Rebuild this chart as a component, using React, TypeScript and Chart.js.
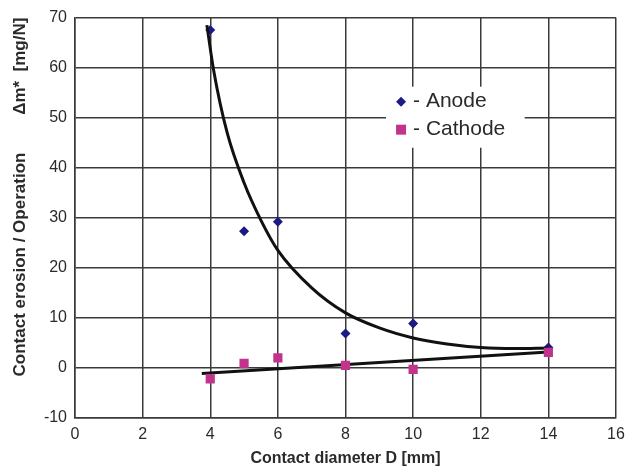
import React, { useEffect, useRef } from "react";
import { Chart, registerables } from "chart.js";

Chart.register(...registerables);

const xTickValues = [0, 2, 4, 6, 8, 10, 12, 14, 16];
const yTickValues = [-10, 0, 10, 20, 30, 40, 50, 60, 70];

const anodeX = [4, 5, 6, 8, 10, 14];
const anodeY = [67.5, 27.3, 29.2, 6.9, 8.9, 4.1];

const cathodeX = [4, 5, 6, 8, 10, 14];
const cathodeY = [-2.2, 0.9, 2.0, 0.5, -0.3, 3.1];

const anodeTrendX = [3.9, 4.1, 4.5, 5, 5.5, 6, 7, 8, 9, 10, 11, 12, 13, 14];
const anodeTrendY = [68.5, 59.5, 47, 37, 29.5, 23.5, 16, 11, 8, 6, 4.8, 4.1, 3.9, 4.0];

const cathodeTrendX = [3.75, 14];
const cathodeTrendY = [-1.1, 3.2];

const legendLabels = ["- Anode", "- Cathode"];
const xTitle = "Contact diameter D [mm]";
const yTitle = "Contact erosion / Operation        \u0394m*  [mg/N]";

const ANODE_COLOR = "#1c1a84";
const CATHODE_COLOR = "#c2338e";
const GRID_COLOR = "#3a3a3a";
const TEXT_COLOR = "#2a2a2a";

const zip = (xs: number[], ys: number[]) => xs.map((x, i) => ({ x, y: ys[i] }));

const legendPlugin = {
  id: "innerLegend",
  beforeDatasetsDraw(chart: any) {
    const ctx = chart.ctx;
    const xs = chart.scales.x;
    const ys = chart.scales.y;
    const left = xs.getPixelForValue(9.2);
    const right = xs.getPixelForValue(13.3);
    const top = ys.getPixelForValue(56.2);
    const bottom = ys.getPixelForValue(44);
    ctx.save();
    ctx.fillStyle = "#ffffff";
    ctx.fillRect(left, top, right - left, bottom - top);
    const mx = left + 15;
    const row1 = top + 15;
    const row2 = top + 43;
    ctx.fillStyle = ANODE_COLOR;
    ctx.beginPath();
    ctx.moveTo(mx - 5, row1);
    ctx.lineTo(mx, row1 - 5);
    ctx.lineTo(mx + 5, row1);
    ctx.lineTo(mx, row1 + 5);
    ctx.closePath();
    ctx.fill();
    ctx.fillStyle = CATHODE_COLOR;
    ctx.fillRect(mx - 5, row2 - 5, 10, 10);
    ctx.fillStyle = TEXT_COLOR;
    ctx.font = "21px 'Liberation Sans', Arial, sans-serif";
    ctx.textBaseline = "middle";
    ctx.textAlign = "left";
    ctx.fillText(legendLabels[0], mx + 12, row1);
    ctx.fillText(legendLabels[1], mx + 12, row2);
    ctx.restore();
  },
};

export default function App() {
  const ref = useRef<HTMLCanvasElement | null>(null);

  useEffect(() => {
    if (!ref.current) return;
    const chart = new Chart(ref.current, {
      type: "scatter",
      data: {
        datasets: [
          {
            label: "Cathode",
            data: zip(cathodeX, cathodeY),
            pointStyle: "rect",
            pointRadius: 6.5,
            pointHoverRadius: 6.5,
            backgroundColor: CATHODE_COLOR,
            borderColor: CATHODE_COLOR,
            borderWidth: 0,
          },
          {
            label: "Cathode trend",
            data: zip(cathodeTrendX, cathodeTrendY),
            showLine: true,
            pointRadius: 0,
            borderColor: "#111111",
            borderWidth: 3,
          },
          {
            label: "Anode trend",
            data: zip(anodeTrendX, anodeTrendY),
            showLine: true,
            pointRadius: 0,
            borderColor: "#111111",
            borderWidth: 3,
            cubicInterpolationMode: "monotone",
          },
          {
            label: "Anode",
            data: zip(anodeX, anodeY),
            pointStyle: "rectRot",
            pointRadius: 5,
            pointHoverRadius: 5,
            backgroundColor: ANODE_COLOR,
            borderColor: ANODE_COLOR,
            borderWidth: 0,
          },
        ],
      },
      options: {
        responsive: false,
        animation: false,
        devicePixelRatio: 1,
        layout: { padding: { left: 0, right: 16, top: 16, bottom: 0 } },
        plugins: {
          legend: { display: false },
          tooltip: { enabled: false },
        },
        scales: {
          x: {
            type: "linear",
            min: 0,
            max: 16,
            afterBuildTicks: (scale: any) => {
              scale.ticks = xTickValues.map((v) => ({ value: v }));
            },
            afterFit: (scale: any) => {
              scale.height = 52;
            },
            grid: { color: GRID_COLOR, lineWidth: 1.5, drawTicks: false },
            border: { color: GRID_COLOR, width: 1.5 },
            ticks: {
              padding: 7,
              color: TEXT_COLOR,
              font: { family: "'Liberation Sans', Arial, sans-serif", size: 16 },
            },
            title: {
              display: true,
              text: xTitle,
              color: TEXT_COLOR,
              font: { family: "'Liberation Sans', Arial, sans-serif", size: 16, weight: "bold" },
              padding: { top: 0, bottom: 2 },
            },
          },
          y: {
            type: "linear",
            min: -10,
            max: 70,
            afterBuildTicks: (scale: any) => {
              scale.ticks = yTickValues.map((v) => ({ value: v }));
            },
            afterFit: (scale: any) => {
              scale.width = 75;
            },
            grid: { color: GRID_COLOR, lineWidth: 1.5, drawTicks: false },
            border: { color: GRID_COLOR, width: 1.5 },
            ticks: {
              padding: 8,
              color: TEXT_COLOR,
              font: { family: "'Liberation Sans', Arial, sans-serif", size: 16 },
            },
            title: {
              display: true,
              text: yTitle,
              align: "end",
              color: TEXT_COLOR,
              font: { family: "'Liberation Sans', Arial, sans-serif", size: 17, weight: "bold" },
              padding: { top: 10, bottom: 0 },
            },
          },
        },
      },
      plugins: [legendPlugin],
    } as any);
    return () => chart.destroy();
  }, []);

  return (
    <div style={{ position: "absolute", left: 0, top: 0, width: 632, height: 470, background: "#fff" }}>
      <canvas ref={ref} width={632} height={470} style={{ display: "block" }} />
    </div>
  );
}
